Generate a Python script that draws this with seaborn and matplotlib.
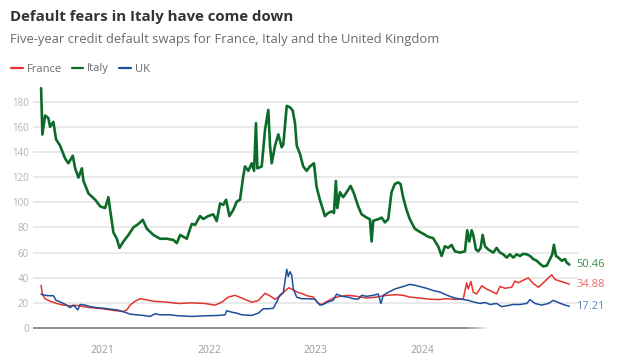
import numpy as np
import pandas as pd
import matplotlib
matplotlib.use("Agg")
import matplotlib.pyplot as plt
from matplotlib.lines import Line2D
import seaborn as sns

# ---- data (time as decimal years) ----
italy_t = [2020.423, 2020.435, 2020.460, 2020.491, 2020.507, 2020.538, 2020.563, 2020.601, 2020.648, 2020.679,
           2020.720, 2020.742, 2020.773, 2020.805, 2020.820, 2020.867, 2020.930, 2020.977, 2021.023, 2021.054,
           2021.070, 2021.101, 2021.133, 2021.158, 2021.195, 2021.242, 2021.289, 2021.336, 2021.377, 2021.415,
           2021.477, 2021.540, 2021.603, 2021.665, 2021.697, 2021.728, 2021.791, 2021.822, 2021.838, 2021.869,
           2021.915, 2021.946, 2021.991, 2022.040, 2022.072, 2022.103, 2022.134, 2022.160, 2022.191, 2022.228,
           2022.260, 2022.291, 2022.322, 2022.338, 2022.369, 2022.401, 2022.423, 2022.441, 2022.454, 2022.495,
           2022.526, 2022.557, 2022.573, 2022.589, 2022.620, 2022.651, 2022.683, 2022.698, 2022.730, 2022.761,
           2022.786, 2022.808, 2022.824, 2022.854, 2022.885, 2022.917, 2022.948, 2022.986, 2023.011, 2023.042,
           2023.089, 2023.120, 2023.152, 2023.174, 2023.192, 2023.205, 2023.230, 2023.261, 2023.293, 2023.331,
           2023.362, 2023.402, 2023.434, 2023.481, 2023.512, 2023.528, 2023.543, 2023.590, 2023.622, 2023.653,
           2023.684, 2023.715, 2023.746, 2023.778, 2023.800, 2023.824, 2023.856, 2023.887, 2023.934, 2023.981,
           2024.012, 2024.059, 2024.106, 2024.153, 2024.185, 2024.216, 2024.247, 2024.279, 2024.310, 2024.357,
           2024.404, 2024.425, 2024.444, 2024.467, 2024.482, 2024.507, 2024.529, 2024.551, 2024.570, 2024.592,
           2024.623, 2024.670, 2024.701, 2024.732, 2024.763, 2024.795, 2024.826, 2024.857, 2024.889, 2024.920,
           2024.951, 2024.983, 2025.014, 2025.045, 2025.077, 2025.108, 2025.139, 2025.171, 2025.202, 2025.223,
           2025.239, 2025.258, 2025.280, 2025.312, 2025.343, 2025.359, 2025.383]
italy_v = [190.7, 153.9, 169, 167, 160, 164, 150, 145, 134.8, 131,
           137, 127, 119.6, 127, 117, 107, 102, 96.7, 95.4, 104,
           94, 76, 71, 63.7, 68.8, 74, 80, 82.8, 86, 79,
           74, 71, 71, 70, 67.5, 74, 71, 79, 82.8, 82,
           89, 86.7, 89, 90.4, 85, 99, 98, 102, 89, 94,
           100.5, 102, 121, 128.5, 125, 131, 125, 162.8, 127, 128.5,
           157.7, 173.4, 145, 131, 145, 154, 143.7, 146, 176.7, 175.5,
           173, 162.8, 145, 138.6, 128.5, 125, 128.5, 131, 112, 102,
           89, 91.5, 92.7, 91.5, 117, 95.4, 108, 104, 108, 113,
           107, 96.7, 90.4, 87.8, 86.5, 68.8, 85.3, 86.5, 87.8, 84,
           86.5, 108, 114.5, 115.8, 114.5, 104, 94, 86.6, 79, 76.4,
           75, 72.6, 71.4, 65, 57.3, 65, 63.8, 66, 61, 60,
           61, 77.7, 68.8, 77.7, 73.8, 62.4, 61, 63.7, 74, 65,
           62.4, 60, 63.7, 60, 58.6, 56, 58.6, 56, 58.6, 57.3,
           59, 58.6, 57.3, 54.8, 53.5, 51, 49, 49.6, 54.8, 58.6,
           66.2, 57.3, 56, 53.5, 54.8, 52, 50.46]

france_t = [2020.423, 2020.435, 2020.460, 2020.507, 2020.570, 2020.632, 2020.695, 2020.758, 2020.820, 2020.883,
            2020.946, 2021.008, 2021.070, 2021.133, 2021.195, 2021.227, 2021.258, 2021.305, 2021.352, 2021.399,
            2021.477, 2021.571, 2021.634, 2021.712, 2021.838, 2021.962, 2022.056, 2022.119, 2022.181, 2022.244,
            2022.307, 2022.401, 2022.463, 2022.526, 2022.573, 2022.620, 2022.667, 2022.714, 2022.751, 2022.792,
            2022.838, 2022.885, 2022.917, 2022.979, 2023.026, 2023.058, 2023.105, 2023.167, 2023.230, 2023.308,
            2023.387, 2023.481, 2023.575, 2023.668, 2023.762, 2023.824, 2023.887, 2023.981, 2024.075, 2024.169,
            2024.216, 2024.310, 2024.388, 2024.420, 2024.435, 2024.460, 2024.482, 2024.514, 2024.561, 2024.608,
            2024.670, 2024.701, 2024.732, 2024.779, 2024.842, 2024.873, 2024.904, 2024.951, 2024.998, 2025.045,
            2025.092, 2025.139, 2025.186, 2025.218, 2025.249, 2025.296, 2025.343, 2025.383]
france_v = [34, 27, 23.3, 21.3, 19.5, 18.2, 17.7, 18, 17, 16.2,
            15.7, 15.2, 14.4, 13.7, 13, 14.4, 18.2, 21.3, 23.3, 22.6,
            21.3, 20.8, 20.3, 19.5, 20, 19.5, 18.2, 20.5, 24.6, 26,
            23.8, 20.5, 21.8, 27.6, 25.5, 22.9, 25.5, 29.5, 32, 30.3,
            28.2, 27, 25.7, 24.6, 19.5, 18.7, 21, 23.8, 25.2, 26,
            25.2, 23.8, 24.6, 26, 26.5, 26, 24.6, 23.8, 22.9, 22.6,
            23.3, 22.9, 22.9, 36, 31, 37, 28.4, 27.1, 33.5, 31,
            28.4, 27.1, 33, 31.6, 32.4, 37.3, 36, 38, 39.8, 35.4,
            32.4, 36, 39.8, 42.3, 38.6, 37.3, 36, 34.88]

uk_t = [2020.423, 2020.444, 2020.491, 2020.538, 2020.563, 2020.601, 2020.632, 2020.664, 2020.695, 2020.726,
        2020.767, 2020.789, 2020.836, 2020.883, 2020.946, 2021.008, 2021.070, 2021.133, 2021.195, 2021.258,
        2021.321, 2021.383, 2021.446, 2021.493, 2021.540, 2021.634, 2021.712, 2021.838, 2021.962, 2022.087,
        2022.150, 2022.166, 2022.213, 2022.260, 2022.307, 2022.401, 2022.463, 2022.510, 2022.557, 2022.604,
        2022.636, 2022.667, 2022.698, 2022.730, 2022.745, 2022.761, 2022.777, 2022.792, 2022.824, 2022.870,
        2022.917, 2022.995, 2023.042, 2023.073, 2023.120, 2023.167, 2023.199, 2023.246, 2023.308, 2023.355,
        2023.402, 2023.434, 2023.481, 2023.543, 2023.590, 2023.615, 2023.637, 2023.684, 2023.746, 2023.824,
        2023.887, 2023.934, 2023.981, 2024.044, 2024.106, 2024.169, 2024.247, 2024.310, 2024.373, 2024.435,
        2024.482, 2024.545, 2024.592, 2024.638, 2024.701, 2024.748, 2024.795, 2024.857, 2024.920, 2024.983,
        2025.014, 2025.061, 2025.124, 2025.186, 2025.233, 2025.280, 2025.326, 2025.383]
uk_v = [27, 26.3, 25.7, 25.7, 22, 20.8, 19.5, 18.2, 16.2, 18.2,
        14.4, 18.7, 18.2, 17, 16.2, 15.7, 15, 14.4, 13, 11,
        10.5, 10, 9.2, 11.3, 10.5, 10.5, 9.7, 9.2, 9.7, 10,
        10.5, 13.7, 12.6, 11.8, 10.5, 10, 11.8, 15.3, 15.3, 15.7,
        20.8, 26.3, 28.2, 46.7, 41, 44.8, 42, 31, 24.5, 23.3,
        23.3, 22.9, 18.2, 18.7, 20.8, 22, 27, 25.2, 24.6, 23.3,
        22.9, 26, 25.2, 26, 27, 19.5, 26, 28.4, 31, 33,
        34.7, 34, 33, 31.6, 29.8, 28.6, 25.7, 23.8, 22.9, 22,
        20.8, 19.5, 20.3, 18.7, 19.5, 17, 17.7, 18.7, 18.7, 19.5,
        22.6, 19.5, 18.2, 19.5, 22, 20.3, 18.7, 17.21]

series_names = ["France", "Italy", "UK"]
line_colors = {"France": "#e3342f", "Italy": "#0d6b2a", "UK": "#1d4f9a"}
label_colors = {"France": "#ee6a66", "Italy": "#3f8c50", "UK": "#5a80c2"}
year_ticks = [2021, 2022, 2023, 2024]
y_ticks = [0, 20, 40, 60, 80, 100, 120, 140, 160, 180]

title = "Default fears in Italy have come down"
subtitle = "Five-year credit default swaps for France, Italy and the United Kingdom"


def to_date(y):
    yr = int(np.floor(y))
    start = pd.Timestamp(year=yr, month=1, day=1)
    end = pd.Timestamp(year=yr + 1, month=1, day=1)
    return start + (end - start) * (y - yr)


frames = []
for name, t, v in [("France", france_t, france_v), ("Italy", italy_t, italy_v), ("UK", uk_t, uk_v)]:
    frames.append(pd.DataFrame({"date": [to_date(x) for x in t], "value": v, "country": name}))
df = pd.concat(frames, ignore_index=True)

sns.set_theme(style="white")
plt.rcParams["font.family"] = ["Open Sans", "DejaVu Sans"]

fig = plt.figure(figsize=(6.4, 3.6), dpi=100)
ax = fig.add_axes([33 / 640, 1 - 328 / 360, (578 - 33) / 640, (328 - 86.6) / 360])

ax.set_ylim(0, 192)
ax.set_xlim(to_date(2020.347), to_date(2025.465))

for yv in y_ticks[1:]:
    ax.axhline(yv, color="#e3e3e3", lw=1.1, zorder=0)

widths = {"France": 1.1, "Italy": 1.9, "UK": 1.1}
order = ["France", "UK", "Italy"]
for name in order:
    sub = df[df["country"] == name]
    sns.lineplot(data=sub, x="date", y="value", ax=ax, color=line_colors[name],
                 lw=widths[name], legend=False, zorder=3, estimator=None)

# baseline fading out
ax.plot([to_date(2020.347), to_date(2024.42)], [0, 0], color="#8c8c8c", lw=1.4,
        solid_capstyle="butt", zorder=2, clip_on=False)
fade_pts = np.linspace(2024.42, 2024.62, 7)
for i in range(len(fade_pts) - 1):
    ax.plot([to_date(fade_pts[i]), to_date(fade_pts[i + 1])], [0, 0], color="#8c8c8c", lw=1.4,
            alpha=1 - (i + 1) / 7, solid_capstyle="butt", zorder=2, clip_on=False)

for s in ax.spines.values():
    s.set_visible(False)

ax.set_yticks(y_ticks)
ax.set_yticklabels([str(v) for v in y_ticks])
ax.set_xticks([to_date(y) for y in year_ticks])
ax.set_xticklabels([str(y) for y in year_ticks])
ax.tick_params(axis="y", length=0, pad=3, labelsize=7, labelcolor="#b3b3b3")
ax.tick_params(axis="x", length=0, pad=12, labelsize=7.5, labelcolor="#9a9a9a")
ax.set_xlabel("")
ax.set_ylabel("")
ax.grid(False)

# end-value labels
for name, t, v in [("France", france_t, france_v), ("Italy", italy_t, italy_v), ("UK", uk_t, uk_v)]:
    ax.annotate(f"{v[-1]:.2f}", xy=(to_date(t[-1]), v[-1]), xytext=(5, 0), textcoords="offset points",
                va="center", ha="left", fontsize=8, color=label_colors[name], annotation_clip=False)

fig.text(10 / 640, 1 - 17 / 360, title, fontsize=10.8, fontweight="bold", color="#333333",
         ha="left", va="center")
fig.text(10 / 640, 1 - 40 / 360, subtitle, fontsize=9.4, color="#6b6b6b", ha="left", va="center")

handles = [Line2D([0], [0], color=line_colors[n], lw=1.6) for n in series_names]
fig.legend(handles, series_names, loc="center left", bbox_to_anchor=(2 / 640, 1 - 69 / 360), ncol=3,
           frameon=False, fontsize=8, handlelength=1.05, handletextpad=0.35, columnspacing=0.9,
           labelcolor="#6b6b6b", borderpad=0.3)

fig.savefig("out.png", dpi=100)
